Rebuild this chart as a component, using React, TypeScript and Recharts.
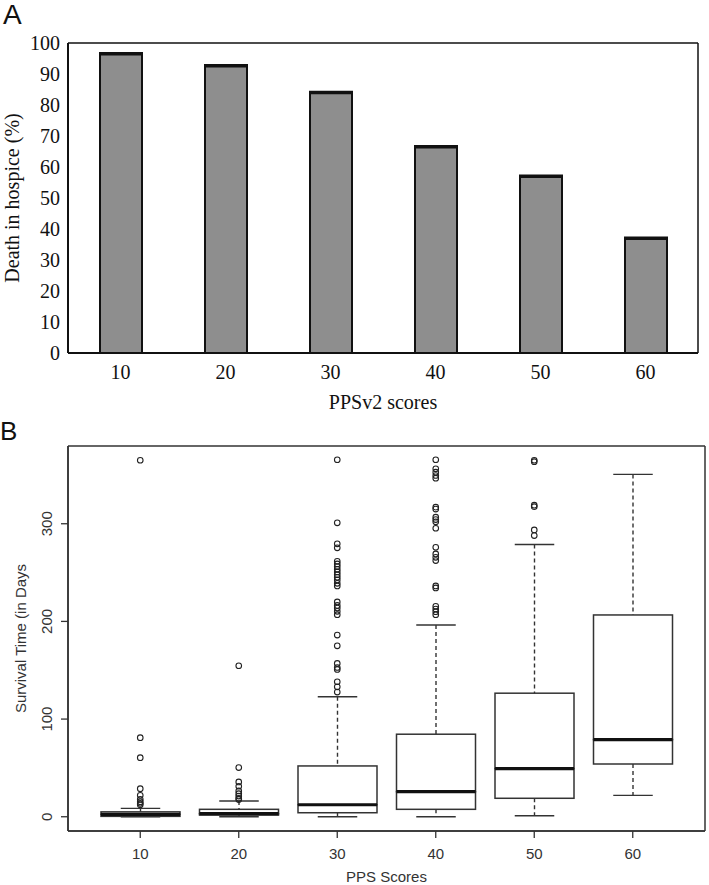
import {
  BarChart, Bar, XAxis, YAxis, ComposedChart, Scatter, CartesianGrid,
} from 'recharts'

// ── Data ───────────────────────────────────────────────────────

const SCORES = ['10', '20', '30', '40', '50', '60']

// panel A: death in hospice (%) by PPSv2 score
const DEATH_IN_HOSPICE = [96.5, 92.7, 84, 66.5, 57, 37]
const PCT_TICKS = [0, 10, 20, 30, 40, 50, 60, 70, 80, 90, 100]

// panel B: survival time (days) box plot
const WHISKER_LOW = [0, 0, 0, 0, 1, 21.9]
const Q1 = [0.4, 1.7, 4.1, 7.6, 18.9, 54]
const MEDIAN = [2.5, 3.1, 12.3, 25.7, 49.3, 79]
const Q3 = [5, 7.6, 52, 84.5, 126.5, 206.6]
const WHISKER_HIGH = [8.6, 16.1, 122.8, 196.3, 278.7, 350.5]
const OUTLIERS = [
  [365, 81, 60.5, 28.7, 22, 17.8, 15.4, 13.7, 12.2],
  [154.6, 50.3, 35.6, 31.2, 26.4, 23.6, 21.2, 18.9, 17.6],
  [365.5, 300.9, 279.4, 275.3, 261.5, 258.9, 256.1, 253.3, 250.7, 247.9, 245.1, 242.5, 239, 236.3,
    219.9, 216.4, 213.7, 210.3, 206.9, 186, 175, 157, 152.8, 150.8, 138.2, 133, 127.6],
  [365.5, 356.3, 352.8, 349.4, 346.7, 317, 315, 306.7, 304.3, 302, 295.4, 275.9, 269.1, 265.6,
    262.3, 236.3, 234.3, 215.4, 212.7, 210, 206.9],
  [365, 363.5, 319, 317.5, 293.7, 287.9],
  [],
]
const DAY_TICKS = [0, 100, 200, 300]

// ── Derived tables ─────────────────────────────────────────────

const hospiceData = SCORES.map((score, i) => ({ score, pct: DEATH_IN_HOSPICE[i] }))

const boxData = SCORES.map((score, i) => ({
  score,
  base: WHISKER_LOW[i],
  lowWhisker: Q1[i] - WHISKER_LOW[i],
  lowBox: MEDIAN[i] - Q1[i],
  highBox: Q3[i] - MEDIAN[i],
  highWhisker: WHISKER_HIGH[i] - Q3[i],
}))

const outlierData = SCORES.flatMap((score, i) => OUTLIERS[i].map((days) => ({ score, days })))

// ── Styles ─────────────────────────────────────────────────────

const SERIF = '"Liberation Serif", "Times New Roman", serif'
const SANS = '"Liberation Sans", Arial, sans-serif'
const INK_A = '#111'
const INK_B = '#333'

// plot frame: grid lines only at the edges of the plot area
const frameRows = ({ offset }: any) => [offset.top, offset.top + offset.height]
const frameCols = ({ offset }: any) => [offset.left, offset.left + offset.width]

// ── Shapes ─────────────────────────────────────────────────────

function HospiceBar(p: any) {
  const { x, y, width, height } = p
  return (
    <g>
      <rect x={x} y={y} width={width} height={height} fill="#8e8e8e" stroke={INK_A} strokeWidth={2} />
      <line x1={x - 1} x2={x + width + 1} y1={y} y2={y} stroke={INK_A} strokeWidth={3.5} />
    </g>
  )
}

function LowWhisker(p: any) {
  const cx = p.x + p.width / 2
  const bottom = p.y + p.height
  const half = p.width / 4
  return (
    <g stroke={INK_B} strokeWidth={1.4}>
      <line x1={cx} x2={cx} y1={p.y} y2={bottom} strokeDasharray="4 3" />
      <line x1={cx - half} x2={cx + half} y1={bottom} y2={bottom} />
    </g>
  )
}

function HighWhisker(p: any) {
  const cx = p.x + p.width / 2
  const half = p.width / 4
  return (
    <g stroke={INK_B} strokeWidth={1.4}>
      <line x1={cx} x2={cx} y1={p.y} y2={p.y + p.height} strokeDasharray="4 3" />
      <line x1={cx - half} x2={cx + half} y1={p.y} y2={p.y} />
    </g>
  )
}

function LowBox(p: any) {
  return <rect x={p.x} y={p.y} width={p.width} height={p.height} fill="none" stroke={INK_B} strokeWidth={1.5} />
}

function HighBox(p: any) {
  const bottom = p.y + p.height
  return (
    <g>
      <rect x={p.x} y={p.y} width={p.width} height={p.height} fill="none" stroke={INK_B} strokeWidth={1.5} />
      <line x1={p.x} x2={p.x + p.width} y1={bottom} y2={bottom} stroke="#111" strokeWidth={3.2} />
    </g>
  )
}

function Outlier(p: any) {
  return <circle cx={p.cx} cy={p.cy} r={2.8} fill="none" stroke="#222" strokeWidth={1.1} />
}

function RotatedDayTick(p: any) {
  const { x, y, payload } = p
  return (
    <text x={x} y={y} transform={`rotate(-90 ${x} ${y})`} textAnchor="middle"
      fontFamily={SANS} fontSize={15} fill={INK_B}>
      {payload.value}
    </text>
  )
}

// axis titles placed from the axis box Recharts hands to the label
function yTitle(text: string, dx: number, font: string, size: number, fill: string) {
  return (props: any) => {
    const vb = props.viewBox ?? { x: 0, y: 0, width: 0, height: 0 }
    const cx = vb.x + dx
    const cy = vb.y + vb.height / 2
    return (
      <text x={cx} y={cy} transform={`rotate(-90 ${cx} ${cy})`} textAnchor="middle"
        dominantBaseline="central" fontFamily={font} fontSize={size} fill={fill}>
        {text}
      </text>
    )
  }
}

function xTitle(text: string, dy: number, font: string, size: number, fill: string) {
  return (props: any) => {
    const vb = props.viewBox ?? { x: 0, y: 0, width: 0, height: 0 }
    return (
      <text x={vb.x + vb.width / 2} y={vb.y + dy} textAnchor="middle" dominantBaseline="central"
        fontFamily={font} fontSize={size} fill={fill}>
        {text}
      </text>
    )
  }
}

// ── Panels ─────────────────────────────────────────────────────

function HospicePanel() {
  const tick = { fontFamily: SERIF, fontSize: 20, fill: INK_A }
  return (
    <BarChart width={709} height={420} data={hospiceData} margin={{ top: 43, right: 11, left: 0, bottom: 0 }}>
      <CartesianGrid stroke={INK_A} strokeWidth={1.5}
        horizontalCoordinatesGenerator={frameRows} verticalCoordinatesGenerator={frameCols} />
      <XAxis dataKey="score" height={67} tickLine={false} tickSize={0} tickMargin={12} tick={tick}
        axisLine={{ stroke: INK_A, strokeWidth: 2 }} label={{ content: xTitle('PPSv2 scores', 49, SERIF, 20, INK_A) }} />
      <YAxis width={68} domain={[0, 100]} ticks={PCT_TICKS} interval={0} tickLine={false} tickSize={0}
        tickMargin={8} tick={tick} axisLine={{ stroke: INK_A, strokeWidth: 2 }}
        label={{ content: yTitle('Death in hospice (%)', 12, SERIF, 20, INK_A) }} />
      <Bar dataKey="pct" barSize={42} shape={HospiceBar} isAnimationActive={false} />
    </BarChart>
  )
}

function SurvivalPanel() {
  return (
    <ComposedChart width={709} height={465} data={boxData} margin={{ top: 26, right: 4, left: 0, bottom: 0 }}>
      <CartesianGrid stroke={INK_B} strokeWidth={1.5}
        horizontalCoordinatesGenerator={frameRows} verticalCoordinatesGenerator={frameCols} />
      <XAxis dataKey="score" type="category" allowDuplicatedCategory={false} height={54}
        padding={{ left: 23, right: 23 }} tickSize={7} tickMargin={10}
        tick={{ fontFamily: SANS, fontSize: 15, fill: INK_B }}
        tickLine={{ stroke: INK_B, strokeWidth: 1.3 }} axisLine={{ stroke: INK_B, strokeWidth: 1.5 }}
        label={{ content: xTitle('PPS Scores', 45, SANS, 15, INK_B) }} />
      <YAxis width={68} type="number" domain={[-14.6, 379.6]} allowDataOverflow ticks={DAY_TICKS}
        interval={0} tickSize={7} tickMargin={8.5} tick={<RotatedDayTick />}
        tickLine={{ stroke: INK_B, strokeWidth: 1.3 }} axisLine={{ stroke: INK_B, strokeWidth: 1.5 }}
        label={{ content: yTitle('Survival Time (in Days', 20, SANS, 15, INK_B) }} />
      <Bar dataKey="base" stackId="box" barSize={79} fill="none" isAnimationActive={false} />
      <Bar dataKey="lowWhisker" stackId="box" barSize={79} shape={LowWhisker} isAnimationActive={false} />
      <Bar dataKey="lowBox" stackId="box" barSize={79} shape={LowBox} isAnimationActive={false} />
      <Bar dataKey="highBox" stackId="box" barSize={79} shape={HighBox} isAnimationActive={false} />
      <Bar dataKey="highWhisker" stackId="box" barSize={79} shape={HighWhisker} isAnimationActive={false} />
      <Scatter data={outlierData} dataKey="days" shape={Outlier} isAnimationActive={false} />
    </ComposedChart>
  )
}

export default function App() {
  return (
    <div style={{ position: 'absolute', left: 0, top: 0, width: 709, height: 885, background: '#fff' }}>
      <div style={{ position: 'absolute', left: 0, top: 420 }}>
        <SurvivalPanel />
      </div>
      <div style={{ position: 'absolute', left: 0, top: 0 }}>
        <HospicePanel />
      </div>
      <div style={{ position: 'absolute', left: 3, top: 1, fontFamily: SANS, fontSize: 28, lineHeight: '28px', color: '#111' }}>A</div>
      <div style={{ position: 'absolute', left: 0, top: 418, fontFamily: SANS, fontSize: 26, lineHeight: '26px', color: '#111' }}>B</div>
    </div>
  )
}
